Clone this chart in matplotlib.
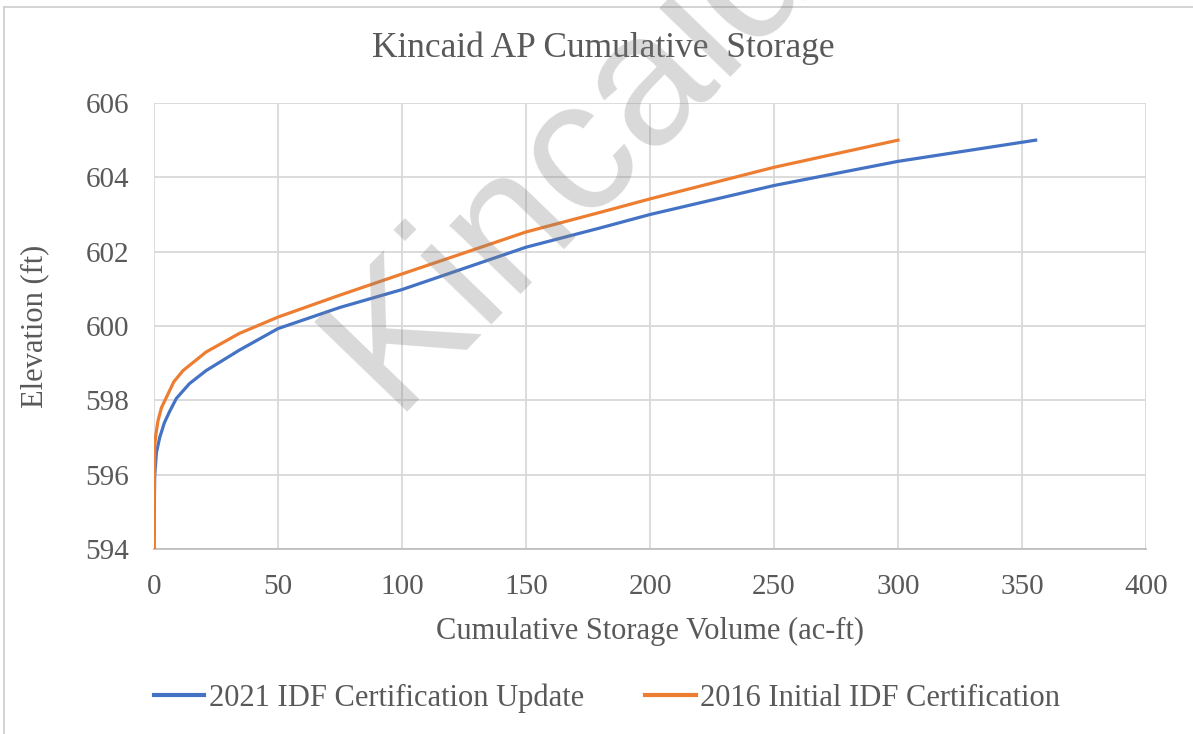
import numpy as np
import matplotlib
matplotlib.use("Agg")
import matplotlib.pyplot as plt
from matplotlib.lines import Line2D

# 2021 IDF Certification Update (blue)
vol_2021 = [0, 0.1, 0.3, 1.0, 2.3, 4.2, 6.3, 9.0, 14.3, 21, 34.4, 50, 75, 100, 150, 180, 200, 250, 300, 355.5]
elev_2021 = [594.0, 595.0, 596.0, 596.6, 597.0, 597.4, 597.7, 598.05, 598.45, 598.8, 599.35, 599.93, 600.5,
             600.98, 602.12, 602.64, 603.0, 603.78, 604.43, 605.0]

# 2016 Initial IDF Certification (orange)
vol_2016 = [0, 0.1, 0.3, 0.8, 1.6, 3.0, 5.0, 8.0, 11.7, 21, 34.4, 50, 74.5, 100, 150, 180, 200, 250, 300]
elev_2016 = [594.0, 595.5, 596.8, 597.1, 597.45, 597.8, 598.08, 598.5, 598.8, 599.3, 599.8, 600.24, 600.82,
             601.4, 602.53, 603.06, 603.42, 604.27, 605.0]

x_ticks = [0, 50, 100, 150, 200, 250, 300, 350, 400]
y_ticks = [594, 596, 598, 600, 602, 604, 606]

BLUE = "#4472C4"
ORANGE = "#ED7D31"
GRID = "#D9D9D9"
TXT = "#595959"

W, H = 1193, 734
fig = plt.figure(figsize=(W / 100, H / 100), dpi=100)
plt.rcParams['font.family'] = ['Liberation Serif', 'DejaVu Serif']

# axes box in pixel coords: x 154..1146, y 103..549
ax = fig.add_axes([154 / W, 1 - 549 / H, (1146 - 154) / W, (549 - 103) / H])

ax.plot(vol_2021, elev_2021, color=BLUE, lw=2.3, solid_joinstyle='round', zorder=3)
ax.plot(vol_2016, elev_2016, color=ORANGE, lw=2.3, solid_joinstyle='round', zorder=3)

ax.set_xlim(0, 400)
ax.set_ylim(594, 606)
ax.set_xticks(x_ticks)
ax.set_yticks(y_ticks)
ax.grid(True, color=GRID, lw=1.3)
ax.set_axisbelow(True)
for s in ['top', 'right', 'left']:
    ax.spines[s].set_visible(False)
ax.spines['bottom'].set_color("#BFBFBF")
ax.spines['bottom'].set_linewidth(1.3)
ax.tick_params(length=0, labelsize=21, labelcolor=TXT)
ax.tick_params(axis='x', pad=18)
ax.tick_params(axis='y', pad=18)

ax.set_xlabel("Cumulative Storage Volume (ac-ft)", fontsize=22, color=TXT, labelpad=12)
ax.set_ylabel("Elevation (ft)", fontsize=22, color=TXT, labelpad=26)

fig.text(603 / W, 1 - 48 / H, "Kincaid AP Cumulative  Storage", fontsize=25.5, color=TXT,
         ha='center', va='center')

handles = [Line2D([], [], color=BLUE, lw=3), Line2D([], [], color=ORANGE, lw=3)]
fig.legend(handles, ["2021 IDF Certification Update", "2016 Initial IDF Certification"],
           loc='center', bbox_to_anchor=(607 / W, 1 - 698 / H), ncol=2, frameon=False,
           fontsize=22, labelcolor=TXT, handlelength=1.65, handletextpad=0.15, columnspacing=2.0)

# chart area frame (left and top edges visible)
fig.add_artist(Line2D([4 / W, 4 / W], [0, 1 - 7 / H], color="#D0D0D0", lw=1.3))
fig.add_artist(Line2D([4 / W, 1], [1 - 7 / H, 1 - 7 / H], color="#D0D0D0", lw=1.3))

# watermark
fig.text(392 / W, 1 - 412 / H, "Kincaid", fontsize=135, family='Liberation Sans',
         color='#808080', alpha=0.3, rotation=46, rotation_mode='anchor',
         ha='left', va='baseline', zorder=10)

fig.savefig("out.png", dpi=100, facecolor='white')
